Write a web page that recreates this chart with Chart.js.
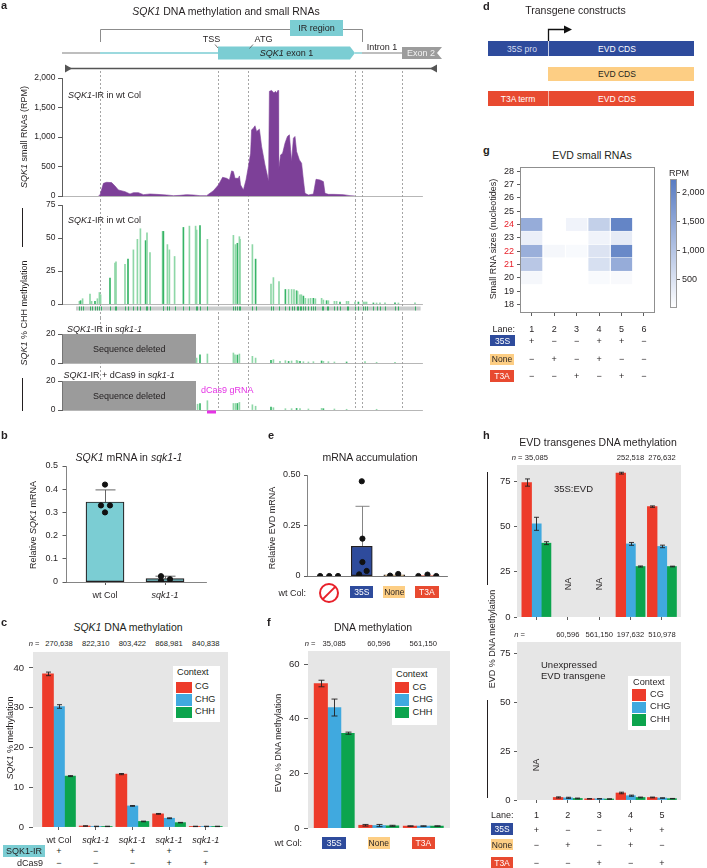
<!DOCTYPE html>
<html lang="en">
<head>
<meta charset="UTF-8">
<meta name="viewport" content="width=device-width, initial-scale=1.0">
<title>SQK1 and EVD methylation</title>
<script src="https://cdn.jsdelivr.net/npm/chart.js"></script>
<style>
  body { margin: 0; background: #fff; }
  #fig { position: relative; width: 707px; height: 868px; overflow: hidden;
         font-family: 'Liberation Sans', Arial, sans-serif; color: #231f20; }
  #fig canvas { position: absolute; }
  .t { position: absolute; white-space: nowrap; line-height: 1; font-size: 9px; }
  .lbl { font-weight: bold; font-size: 11px; }
  .ttl { font-size: 10.5px; }
  .n { font-size: 7.6px; }
  .box { position: absolute; }
</style>
</head>
<body>
<div id="fig"></div>
<script>
// ---------- data ----------
// a: SQK1 locus, positions in bp from the left end of the plotted window
const locusGuides = [190, 780, 930, 1465, 1500, 1700];
const srnaPos = [182, 190, 207, 223, 248, 265, 282, 315, 340, 357, 382, 407, 440, 473, 523, 557, 590, 623, 657, 690,
  723, 757, 782, 803, 823, 837, 848, 857, 865, 882, 887, 893, 907, 920, 932, 943, 948, 957, 965, 973,
  987, 998, 1015, 1028, 1033, 1037, 1048, 1060, 1067, 1073, 1080, 1083, 1093, 1103, 1115, 1127, 1137, 1143, 1148, 1157,
  1165, 1173, 1187, 1198, 1207, 1215, 1232, 1257, 1270, 1290, 1307, 1315, 1332, 1357, 1407, 1440, 1465];
const srnaRpm = [0, 17, 215, 232, 227, 170, 102, 74, 34, 57, 57, 23, 34, 28, 17, 6, 11, 23, 17, 6,
  6, 90, 187, 317, 300, 272, 425, 414, 300, 300, 340, 187, 102, 272, 499, 725, 1122, 1150, 1190, 1094,
  1133, 839, 527, 329, 244, 1774, 1790, 1745, 1774, 1745, 1790, 442, 697, 725, 895, 1009, 1037, 782, 584, 980,
  1009, 754, 612, 555, 272, 45, 17, 34, 283, 272, 244, 45, 28, 28, 23, 6, 0];

const chhWtPos = [87, 93, 103, 140, 148, 165, 177, 187, 193, 240, 265, 270, 315, 330, 357, 377, 392, 418, 425, 440,
  503, 507, 527, 537, 563, 607, 637, 668, 673, 690, 727, 857, 867, 877, 887, 890, 952, 968, 1045, 1057,
  1085, 1117, 1133, 1148, 1160, 1173, 1178, 1190, 1197, 1207, 1217, 1232, 1243, 1257, 1267, 1298, 1307, 1323, 1332, 1362,
  1373, 1390, 1423, 1432, 1465, 1482, 1507, 1515, 1523, 1557, 1573, 1590, 1615, 1665, 1682, 1765];
const chhWt = [2, 2.5, 4, 7.6, 2, 2, 4, 8.7, 7, 19.6, 31, 32, 30, 34, 41, 49, 57, 48, 54, 39,
  55, 55, 45, 41, 36, 58, 59, 59, 56, 59.5, 49, 52, 45, 46, 51, 49, 45, 34, 15, 20,
  17, 11, 11, 11, 11, 10, 9.5, 7, 7, 6, 4.3, 4, 4.3, 4.3, 4, 4.3, 3, 2.5, 2.5, 2,
  2, 1.5, 2, 2, 1.5, 1.5, 1.5, 1.5, 1.5, 0.8, 0.8, 0.8, 0.8, 0.8, 0.8, 0.8];
const chhSqkPos = [673, 690, 727, 857, 865, 877, 887, 952, 968, 1045, 1057, 1090, 1117, 1133, 1148, 1173, 1178, 1190,
  1207, 1232, 1257, 1298, 1307, 1332, 1362, 1423, 1515, 1573, 1665];
const chhSqk = [3.4, 5.7, 6.2, 6.9, 5.7, 5.5, 6.2, 4.6, 3.4, 1.8, 2.3, 1.1, 1.6, 1.1, 1.4, 1.8, 1.4, 1.1,
  0.9, 0.7, 0.9, 1.4, 1.1, 0.9, 0.7, 0.7, 0.9, 0.5, 0.5];
const chhCasPos = [678, 690, 727, 857, 867, 877, 887, 952, 968, 1045, 1057, 1117, 1148, 1173, 1190, 1232, 1298, 1307, 1362, 1423, 1573];
const chhCas = [4, 4.5, 6.4, 4.5, 4.5, 4.5, 5.2, 3.6, 2.6, 2.0, 1.6, 0.9, 0.9, 1.1, 0.9, 0.7, 1.1, 0.9, 0.7, 0.5, 0.5];

// locus features (bp)
const irSpan = [190, 1500], irBox = [1140, 1405];
const exon1 = [780, 1465], exon2 = [1700, 1890];
const tssPos = 780, atgPos = 930, intronMid = 1600;
const deletedSpan = [3, 670], grnaSpan = [725, 770], cytBand = [70, 1793];

// b
const bGroups = ['wt Col', 'sqk1-1'];
const bMean = [0.345, 0.015];
const bSd = [0.052, 0.010];
const bReps = [[0.42, 0.33, 0.33, 0.30], [0.025, 0.005, 0.012]];

// c
const cGroups = ['wt Col', 'sqk1-1', 'sqk1-1', 'sqk1-1', 'sqk1-1'];
const cN = ['270,638', '822,310', '803,422', '868,981', '840,838'];
const cCG = [38.5, 0.25, 13.3, 3.3, 0.15];
const cCHG = [30.3, 0.15, 5.3, 2.2, 0.15];
const cCHH = [12.8, 0.15, 1.4, 1.1, 0.15];
const cCGerr = [0.45, 0.05, 0.15, 0.1, 0.05];
const cCHGerr = [0.45, 0.05, 0.1, 0.1, 0.05];
const cCHHerr = [0.12, 0.05, 0.08, 0.06, 0.05];
const cIR = ['+', '−', '+', '+', '−'];
const cCas9 = ['−', '−', '−', '+', '+'];

// e
const eMean = [null, 0.147, 0.006, 0.002];
const eSd = [null, 0.198, null, null];
const eReps = [[0, 0, 0], [0.469, 0.185, 0.069, 0.025, 0.008], [0.002, 0.01], [0, 0.007, 0]];

// f
const fN = ['35,085', '60,596', '561,150'];
const fCG = [52.9, 1.0, 0.7];
const fCHG = [44.1, 0.9, 0.7];
const fCHH = [34.7, 0.8, 0.7];
const fCGerr = [1.2, 0.3, 0.1];
const fCHGerr = [3.1, 0.4, 0.1];
const fCHHerr = [0.4, 0.2, 0.1];

// g
const gLanes = [1, 2, 3, 4, 5, 6];
const gRedSizes = [21, 22, 24];
const rpm20 = [130, 0, 0, 90, 100, 0];
const rpm21 = [940, 0, 0, 530, 1400, 0];
const rpm22 = [1350, 130, 90, 470, 2000, 0];
const rpm23 = [270, 0, 0, 200, 330, 0];
const rpm24 = [1400, 0, 200, 800, 2070, 0];
const cbMax = 2232;
const cbTicks = [500, 1000, 1500, 2000];
const g35S = ['+', '−', '−', '+', '+', '−'];
const gNone = ['−', '+', '−', '+', '−', '−'];
const gT3A = ['−', '−', '+', '−', '+', '−'];

// h
const hLanes = [1, 2, 3, 4, 5];
const hTopN = ['35,085', '', '', '252,518', '276,632'];
const hTopCG = [74.3, null, null, 79.5, 61.0];
const hTopCHG = [51.5, null, null, 40.4, 39.0];
const hTopCHH = [40.8, null, null, 27.9, 27.9];
const hTopCGerr = [2.0, null, null, 0.5, 0.4];
const hTopCHGerr = [3.6, null, null, 0.8, 0.7];
const hTopCHHerr = [0.8, null, null, 0.3, 0.2];
const hBotN = ['', '60,596', '561,150', '197,632', '510,978'];
const hBotCG = [null, 1.3, 0.6, 3.6, 1.3];
const hBotCHG = [null, 1.1, 0.6, 2.2, 1.0];
const hBotCHH = [null, 0.8, 0.5, 1.3, 0.7];
const hBotCGerr = [null, 0.3, 0.1, 0.4, 0.2];
const hBotCHGerr = [null, 0.3, 0.1, 0.3, 0.1];
const hBotCHHerr = [null, 0.2, 0.1, 0.2, 0.1];
const h35S = ['+', '−', '−', '+', '+'];
const hNone = ['−', '+', '−', '+', '−'];
const hT3A = ['−', '−', '+', '−', '+'];

// ---------- style ----------
const FONT = "'Liberation Sans', Arial, sans-serif";
const TEAL = '#7BCDD3', PURPLE = '#7D4098';
const CG_COL = '#ED3B2A', CHG_COL = '#40A9DF', CHH_COL = '#0CA44D';
const S35_COL = '#2E4B9C', NONE_COL = '#FDCE84', T3A_COL = '#E84A30';
const HEAT_LO = [255, 255, 255], HEAT_HI = [88, 123, 194];

Chart.defaults.font.family = FONT;
Chart.defaults.font.size = 9;
Chart.defaults.color = '#231f20';
Chart.defaults.animation = false;
Chart.defaults.responsive = false;
Chart.defaults.events = [];
Chart.defaults.plugins.legend.display = false;
Chart.defaults.plugins.tooltip.enabled = false;

const fig = document.getElementById('fig');

function heat(v) {
  const t = Math.max(0, Math.min(1, v / cbMax));
  return 'rgb(' + HEAT_LO.map((lo, i) => Math.round(lo + (HEAT_HI[i] - lo) * t)) + ')';
}
const fmtK = v => v.toLocaleString('en-US');

function ax(o) {
  const tl = o.tickLen ?? 3;
  return {
    type: 'linear', min: o.min, max: o.max, offset: false,
    position: o.position, afterBuildTicks: o.afterBuildTicks,
    grid: { display: tl > 0, drawOnChartArea: false, offset: false, tickLength: tl, color: '#333', lineWidth: 0.8 },
    border: { display: o.border !== false, color: o.borderColor || '#333', width: 0.8 },
    ticks: { display: o.labels !== false, stepSize: o.step, includeBounds: false, autoSkip: false, maxRotation: 0,
             padding: o.pad ?? 2.5, callback: o.cb, color: o.colors || '#231f20', font: o.font || { size: 9 } }
  };
}

// place a chart so that its plot area lands on `area` (page px)
function mount(area, m, cfg) {
  const [x0, y0, x1, y1] = area;
  const W = x1 - x0 + m.l + m.r, H = y1 - y0 + m.t + m.b;
  const cv = document.createElement('canvas');
  cv.width = W; cv.height = H;
  Object.assign(cv.style, { left: (x0 - m.l) + 'px', top: (y0 - m.t) + 'px', width: W + 'px', height: H + 'px' });
  fig.appendChild(cv);
  const o = cfg.options;
  const sx = o.scales.x, sy = o.scales.y;
  const pad = { left: 0, right: m.r, top: m.t, bottom: 0 };
  if (sy.position === 'right') {
    pad.left = m.l; pad.right = 0;
    sy.afterFit = s => { s.width = m.r; s.paddingTop = 0; s.paddingBottom = 0; };
  } else {
    sy.afterFit = s => { s.width = m.l; s.paddingTop = 0; s.paddingBottom = 0; };
  }
  if (sx.display === false) pad.bottom = m.b;
  else sx.afterFit = s => { s.height = m.b; s.paddingLeft = 0; s.paddingRight = 0; };
  o.layout = { padding: pad, autoPadding: false };
  o.devicePixelRatio = 1;
  return new Chart(cv, cfg);
}
const px = (ch, v) => parseFloat(ch.canvas.style.left) + ch.scales.x.getPixelForValue(v);

// ---------- plugins ----------
const guidePlugin = {
  id: 'guides',
  beforeDatasetsDraw(chart, args, o) {
    if (!o.pos) return;
    const c = chart.ctx, xs = chart.scales.x;
    c.save();
    c.strokeStyle = '#9b9b9b'; c.lineWidth = 0.9; c.setLineDash([2, 2]);
    o.pos.forEach(p => {
      const x = Math.round(xs.getPixelForValue(p)) + 0.5;
      c.beginPath(); c.moveTo(x, o.from || 0); c.lineTo(x, o.to ?? chart.height); c.stroke();
    });
    c.restore();
  }
};

const trackPlugin = {
  id: 'track',
  beforeDatasetsDraw(chart, args, o) {
    if (!o.deleted) return;
    const X = v => chart.scales.x.getPixelForValue(v), Y = v => chart.scales.y.getPixelForValue(v);
    const c = chart.ctx;
    const x0 = X(o.deleted[0]), x1 = X(o.deleted[1]), y0 = Y(chart.scales.y.max), y1 = Y(0);
    c.save();
    c.fillStyle = '#9b9b9b'; c.fillRect(x0, y0, x1 - x0, y1 - y0);
    c.fillStyle = '#231f20'; c.font = '9px ' + FONT; c.textAlign = 'center'; c.textBaseline = 'middle';
    c.fillText('Sequence deleted', (x0 + x1) / 2, (y0 + y1) / 2 + 1);
    c.restore();
  },
  afterDatasetsDraw(chart, args, o) {
    const X = v => chart.scales.x.getPixelForValue(v);
    const c = chart.ctx, b = chart.chartArea.bottom;
    c.save();
    if (o.band) {
      c.fillStyle = '#c9cccc';
      c.fillRect(X(cytBand[0]), b + 2.5, X(cytBand[1]) - X(cytBand[0]), 4);
      c.fillStyle = '#3aae66';
      o.band.forEach(p => c.fillRect(Math.round(X(p)), b + 2.5, 1, 4));
    }
    if (o.grna) {
      c.fillStyle = '#E534E5';
      c.fillRect(X(o.grna[0]), b + 0.5, X(o.grna[1]) - X(o.grna[0]), 3);
    }
    c.restore();
  }
};

const locusPlugin = {
  id: 'locus',
  afterDraw(chart) {
    const X = v => chart.scales.x.getPixelForValue(v);
    const c = chart.ctx;
    const ln = (a, b, d, e) => { c.beginPath(); c.moveTo(a, b); c.lineTo(d, e); c.stroke(); };
    c.save();
    // IR bracket and label
    c.strokeStyle = '#8c8c8c'; c.lineWidth = 1;
    const i0 = Math.round(X(irSpan[0])) + 0.5, i1 = Math.round(X(irSpan[1])) + 0.5;
    c.beginPath(); c.moveTo(i0, 42); c.lineTo(i0, 29.5); c.lineTo(i1, 29.5); c.lineTo(i1, 42); c.stroke();
    c.fillStyle = TEAL;
    c.fillRect(X(irBox[0]), 20, X(irBox[1]) - X(irBox[0]), 16);
    c.fillStyle = '#231f20'; c.font = '9px ' + FONT; c.textAlign = 'center'; c.textBaseline = 'middle';
    c.fillText('IR region', (X(irBox[0]) + X(irBox[1])) / 2, 28.5);
    // gene model
    c.lineWidth = 1.4;
    c.strokeStyle = '#a9a9a9'; ln(X(0), 53, X(irSpan[0]), 53);
    c.strokeStyle = TEAL; ln(X(irSpan[0]), 53, X(exon1[0]), 53); ln(X(exon1[1]), 53, X(irSpan[1]), 53);
    c.strokeStyle = '#a9a9a9'; ln(X(irSpan[1]), 53, X(exon2[0]), 53);
    const e0 = X(exon1[0]), e1 = X(exon1[1]);
    c.fillStyle = TEAL;
    c.beginPath(); c.moveTo(e0, 46.5); c.lineTo(e1 - 5, 46.5); c.lineTo(e1, 53); c.lineTo(e1 - 5, 59.5); c.lineTo(e0, 59.5); c.closePath(); c.fill();
    c.textAlign = 'left';
    c.font = 'italic 9px ' + FONT; const w1 = c.measureText('SQK1').width;
    c.font = '9px ' + FONT; const w2 = c.measureText(' exon 1').width;
    const sx = (e0 + e1) / 2 - (w1 + w2) / 2;
    c.fillStyle = '#231f20';
    c.font = 'italic 9px ' + FONT; c.fillText('SQK1', sx, 53.5);
    c.font = '9px ' + FONT; c.fillText(' exon 1', sx + w1, 53.5);
    const x2a = X(exon2[0]), x2b = X(exon2[1]);
    c.fillStyle = '#9c9c9c';
    c.beginPath(); c.moveTo(x2a, 47); c.lineTo(x2b + 2, 47); c.lineTo(x2b - 3, 53); c.lineTo(x2b + 2, 59); c.lineTo(x2a, 59); c.closePath(); c.fill();
    c.textAlign = 'center';
    c.fillStyle = '#f2f2f2'; c.fillText('Exon 2', (x2a + x2b) / 2, 53.5);
    c.fillStyle = '#231f20'; c.fillText('Intron 1', X(intronMid), 48);
    c.fillText('TSS', X(tssPos) - 6.5, 39.5);
    c.fillText('ATG', X(atgPos) + 15.5, 39.5);
    c.strokeStyle = '#555'; c.lineWidth = 0.8;
    ln(X(tssPos) - 3, 44.5, X(tssPos), 48);
    ln(X(atgPos) + 5, 44.5, X(atgPos) + 1.5, 48.5);
    // double-headed locus line
    c.strokeStyle = '#555'; c.lineWidth = 1.6;
    ln(X(15), 68.5, X(1875), 68.5);
    c.fillStyle = '#555';
    c.beginPath(); c.moveTo(X(15), 64.5); c.lineTo(X(15), 72.5); c.lineTo(X(15) + 7, 68.5); c.closePath(); c.fill();
    c.beginPath(); c.moveTo(X(1875), 64.5); c.lineTo(X(1875), 72.5); c.lineTo(X(1875) - 7, 68.5); c.closePath(); c.fill();
    c.restore();
  }
};

const errPlugin = {
  id: 'errbars',
  draw(chart, o) {
    const c = chart.ctx, ys = chart.scales.y;
    c.save();
    c.strokeStyle = o.color || '#231f20'; c.lineWidth = o.width || 0.9;
    o.sets.forEach((errs, di) => {
      if (!errs) return;
      const meta = chart.getDatasetMeta(di);
      meta.data.forEach((bar, j) => {
        const v = chart.data.datasets[di].data[j], e = errs[j];
        if (v == null || e == null) return;
        const top = ys.getPixelForValue(v + e), bot = ys.getPixelForValue(o.upper ? v : Math.max(0, v - e));
        const hw = (o.cap || 5) / 2, x = Math.round(bar.x) + 0.5;
        c.beginPath();
        c.moveTo(x, top); c.lineTo(x, bot);
        c.moveTo(x - hw, top); c.lineTo(x + hw, top);
        if (!o.upper) { c.moveTo(x - hw, bot); c.lineTo(x + hw, bot); }
        c.stroke();
      });
    });
    c.restore();
  },
  beforeDatasetsDraw(chart, args, o) { if (o.sets && o.under) this.draw(chart, o); },
  afterDatasetsDraw(chart, args, o) { if (o.sets && !o.under) this.draw(chart, o); }
};

const bgPlugin = {
  id: 'panelBg',
  beforeDraw(chart) {
    const a = chart.chartArea, c = chart.ctx;
    c.save(); c.fillStyle = '#E6E6E6'; c.fillRect(a.left, a.top, a.right - a.left, a.bottom - a.top); c.restore();
  }
};

const framePlugin = {
  id: 'frame',
  afterDraw(chart, args, o) {
    const a = chart.chartArea, c = chart.ctx;
    c.save(); c.strokeStyle = o.color || '#999'; c.lineWidth = 1;
    c.strokeRect(Math.round(a.left) + 0.5, Math.round(a.top) + 0.5, Math.round(a.right - a.left) - 1, Math.round(a.bottom - a.top) - 1);
    c.restore();
  }
};

// ---------- panel a ----------
const axA = { font: { size: 8.5 }, tickLen: 4, pad: 2.5 };
const locusX = () => ax({ min: 0, max: 1800, labels: false, tickLen: 0, borderColor: '#a5a5a5' });
const greenShade = ctx => (ctx.dataIndex % 4 === 1 ? '#36B466' : '#8ED7A7');

const chA1 = mount([62, 78, 422, 196], { l: 62, t: 78, r: 25, b: 4 }, {
  type: 'line',
  data: { datasets: [{ data: srnaPos.map((p, i) => ({ x: p, y: srnaRpm[i] })), fill: 'origin',
    backgroundColor: PURPLE, borderColor: PURPLE, borderWidth: 0.6, pointRadius: 0, tension: 0 }] },
  options: {
    scales: { x: locusX(), y: ax({ ...axA, min: 0, max: 2000, step: 500, cb: fmtK }) },
    plugins: { guides: { pos: locusGuides, from: 71 } }
  },
  plugins: [guidePlugin, locusPlugin]
});

const chA2 = mount([62, 205, 422, 304], { l: 62, t: 5, r: 25, b: 14 }, {
  type: 'bar',
  data: { datasets: [{ data: chhWtPos.map((p, i) => ({ x: p, y: chhWt[i] })), backgroundColor: greenShade, barThickness: 1 }] },
  options: {
    scales: { x: locusX(), y: ax({ ...axA, min: 0, max: 75, step: 25 }) },
    plugins: { guides: { pos: locusGuides }, track: { band: chhWtPos } }
  },
  plugins: [guidePlugin, trackPlugin]
});

const chA3 = mount([62, 334, 422, 363], { l: 62, t: 16, r: 25, b: 7 }, {
  type: 'bar',
  data: { datasets: [{ data: chhSqkPos.map((p, i) => ({ x: p, y: chhSqk[i] })), backgroundColor: greenShade, barThickness: 1 }] },
  options: {
    scales: { x: locusX(), y: ax({ ...axA, min: 0, max: 20, step: 20 }) },
    plugins: { guides: { pos: locusGuides }, track: { deleted: deletedSpan } }
  },
  plugins: [guidePlugin, trackPlugin]
});

const chA4 = mount([62, 381, 422, 410], { l: 62, t: 11, r: 25, b: 6 }, {
  type: 'bar',
  data: { datasets: [{ data: chhCasPos.map((p, i) => ({ x: p, y: chhCas[i] })), backgroundColor: greenShade, barThickness: 1 }] },
  options: {
    scales: { x: locusX(), y: ax({ ...axA, min: 0, max: 20, step: 20 }) },
    plugins: { guides: { pos: locusGuides, to: 40 }, track: { deleted: deletedSpan, grna: grnaSpan } }
  },
  plugins: [guidePlugin, trackPlugin]
});

// ---------- panel b ----------
const bJit = [[0, -0.067, 0.083, 0], [-0.067, -0.067, 0.083]];
const chB = mount([66, 466, 206, 582], { l: 40, t: 6, r: 6, b: 20 }, {
  type: 'bar',
  data: {
    labels: [0, 1],
    datasets: [
      { type: 'scatter', data: bReps.flatMap((r, g) => r.map((v, k) => ({ x: g + bJit[g][k], y: v }))),
        backgroundColor: '#111', borderColor: '#111', pointRadius: 2.6, order: 0 },
      { data: bMean, backgroundColor: TEAL, borderColor: '#231f20', borderWidth: 1.2, borderSkipped: false, barThickness: 38, order: 1 }
    ]
  },
  options: {
    scales: {
      x: ax({ min: -0.65, max: 1.683, step: 1, pad: 5.5, cb: v => bGroups[v], borderColor: '#666',
              font: ctx => ({ size: 9, style: ctx.tick && ctx.tick.value === 1 ? 'italic' : 'normal' }) }),
      y: ax({ min: 0, max: 0.5, step: 0.1, tickLen: 3.5, pad: 4.5, borderColor: '#666', cb: v => (v === 0 ? '0' : v.toFixed(1)) })
    },
    plugins: { errbars: { sets: [null, bSd], upper: true, under: true, cap: 20, color: '#555' } }
  },
  plugins: [errPlugin]
});

// ---------- panel c ----------
const chC = mount([33, 652, 228, 827], { l: 33, t: 2, r: 2, b: 18 }, {
  type: 'bar',
  data: {
    labels: [0, 1, 2, 3, 4],
    datasets: [
      { data: cCG, backgroundColor: CG_COL, barThickness: 11 },
      { data: cCHG, backgroundColor: CHG_COL, barThickness: 11 },
      { data: cCHH, backgroundColor: CHH_COL, barThickness: 11 }
    ]
  },
  options: {
    scales: {
      x: ax({ min: -0.708, max: 4.606, step: 1, pad: 5, border: false, cb: v => cGroups[v],
              font: ctx => ({ size: 9, style: ctx.tick && ctx.tick.value > 0 ? 'italic' : 'normal' }) }),
      y: ax({ min: 0, max: 44, step: 10, border: false, tickLen: 4, pad: 5, font: { size: 9.5 } })
    },
    plugins: { errbars: { sets: [cCGerr, cCHGerr, cCHHerr], cap: 5 } }
  },
  plugins: [bgPlugin, errPlugin]
});

// ---------- panel e ----------
const eJit = [[-0.28, 0, 0.27], [0, 0.02, 0.02, 0.15, -0.08], [-0.13, 0.12], [-0.26, 0.02, 0.29]];
const chE = mount([307, 475, 447, 576], { l: 40, t: 6, r: 4, b: 4 }, {
  type: 'bar',
  data: {
    labels: [0, 1, 2, 3],
    datasets: [
      { type: 'scatter', data: eReps.flatMap((r, g) => r.map((v, k) => ({ x: g + eJit[g][k], y: v }))),
        backgroundColor: '#111', borderColor: '#111', pointRadius: 2.6, order: 0 },
      { data: eMean, backgroundColor: ['#fff', S35_COL, NONE_COL, T3A_COL], borderColor: '#231f20',
        borderWidth: 1.2, borderSkipped: false, barThickness: 21, order: 1 }
    ]
  },
  options: {
    scales: {
      x: ax({ min: -0.684, max: 3.62, labels: false, tickLen: 0, borderColor: '#555' }),
      y: ax({ min: 0, max: 0.5, step: 0.25, pad: 3.5, borderColor: '#666', cb: v => (v === 0 ? '0' : v.toFixed(2)) })
    },
    plugins: { errbars: { sets: [null, eSd], upper: true, under: true, cap: 14, color: '#777' } }
  },
  plugins: [errPlugin]
});

// ---------- panel f ----------
const chF = mount([308, 651, 450, 828], { l: 30, t: 2, r: 2, b: 4 }, {
  type: 'bar',
  data: {
    labels: [0, 1, 2],
    datasets: [
      { data: fCG, backgroundColor: CG_COL, barThickness: 13.4 },
      { data: fCHG, backgroundColor: CHG_COL, barThickness: 13.4 },
      { data: fCHH, backgroundColor: CHH_COL, barThickness: 13.4 }
    ]
  },
  options: {
    scales: {
      x: ax({ min: -0.589, max: 2.6, labels: false, tickLen: 0, border: false }),
      y: ax({ min: 0, max: 64.8, step: 20, border: false, tickLen: 4, pad: 4.5, font: { size: 9.5 } })
    },
    plugins: { errbars: { sets: [fCGerr, fCHGerr, fCHHerr], cap: 6 } }
  },
  plugins: [bgPlugin, errPlugin]
});

// ---------- panel g ----------
const gRows = [[20, rpm20], [21, rpm21], [22, rpm22], [23, rpm23], [24, rpm24]];
const chG = mount([520, 167, 655, 313], { l: 26, t: 2, r: 2, b: 22 }, {
  type: 'bar',
  data: {
    labels: gLanes,
    datasets: gRows.map(([size, rpm]) => ({
      data: rpm.map(() => [size - 0.5, size + 0.5]), rpm,
      backgroundColor: ctx => heat(ctx.dataset.rpm[ctx.dataIndex]),
      borderColor: '#fff', borderWidth: 0.5, borderSkipped: false, barThickness: 21.7, grouped: false
    }))
  },
  options: {
    scales: {
      x: ax({ min: 0.48, max: 6.49, step: 1, pad: 8, border: false }),
      y: ax({ min: 17.35, max: 28.32, step: 1, border: false, pad: 3,
              colors: ctx => (ctx.tick && gRedSizes.includes(ctx.tick.value) ? '#E8202A' : '#231f20') })
    },
    plugins: { frame: { color: '#8f8f8f' } }
  },
  plugins: [framePlugin]
});

const chCB = mount([670, 179, 677, 308], { l: 2, t: 2, r: 30, b: 2 }, {
  type: 'bar',
  data: {
    labels: ['RPM'],
    datasets: [{
      data: [[0, cbMax]], barPercentage: 1, categoryPercentage: 1,
      backgroundColor: ctx => {
        const a = ctx.chart.chartArea;
        if (!a) return heat(cbMax);
        const g = ctx.chart.ctx.createLinearGradient(0, a.bottom, 0, a.top);
        g.addColorStop(0, heat(0)); g.addColorStop(1, heat(cbMax));
        return g;
      }
    }]
  },
  options: {
    scales: {
      x: { display: false },
      y: ax({ min: 0, max: cbMax, position: 'right', border: false, pad: 2, cb: fmtK,
              afterBuildTicks: s => { s.ticks = cbTicks.map(v => ({ value: v })); } })
    },
    plugins: { frame: { color: '#9a9a9a' } }
  },
  plugins: [framePlugin]
});

// ---------- panel h ----------
const hBars = (cg, chg, chh) => [
  { data: cg, backgroundColor: CG_COL, barThickness: 9.7 },
  { data: chg, backgroundColor: CHG_COL, barThickness: 9.7 },
  { data: chh, backgroundColor: CHH_COL, barThickness: 9.7 }
];
const chH1 = mount([517, 465, 681, 617], { l: 28, t: 2, r: 2, b: 5 }, {
  type: 'bar',
  data: { labels: hLanes, datasets: hBars(hTopCG, hTopCHG, hTopCHH) },
  options: {
    scales: {
      x: ax({ min: 0.382, max: 5.608, step: 1, labels: false, border: false }),
      y: ax({ min: 0, max: 84, step: 25, border: false, pad: 3.5, font: { size: 9.5 } })
    },
    plugins: { errbars: { sets: [hTopCGerr, hTopCHGerr, hTopCHHerr], cap: 5 } }
  },
  plugins: [bgPlugin, errPlugin]
});
const chH2 = mount([517, 642, 681, 800], { l: 28, t: 2, r: 2, b: 20 }, {
  type: 'bar',
  data: { labels: hLanes, datasets: hBars(hBotCG, hBotCHG, hBotCHH) },
  options: {
    scales: {
      x: ax({ min: 0.382, max: 5.608, step: 1, pad: 7.5, border: false }),
      y: ax({ min: 0, max: 81, step: 25, border: false, pad: 3.5, font: { size: 9.5 } })
    },
    plugins: { errbars: { sets: [hBotCGerr, hBotCHGerr, hBotCHHerr], cap: 5 } }
  },
  plugins: [bgPlugin, errPlugin]
});

// ---------- text and decorations ----------
function put(x, y, html, o = {}) {
  const d = document.createElement('div');
  d.className = 't' + (o.cls ? ' ' + o.cls : '');
  d.innerHTML = html;
  d.style.left = x + 'px'; d.style.top = y + 'px';
  if (o.size) d.style.fontSize = o.size + 'px';
  if (o.color) d.style.color = o.color;
  const tx = o.align === 'l' ? '0' : o.align === 'r' ? '-100%' : '-50%';
  d.style.transform = `translate(${tx},-50%)` + (o.rot ? ` rotate(${o.rot}deg)` : '');
  fig.appendChild(d);
  return d;
}
function rect(x, y, w, h, bg) {
  const d = document.createElement('div');
  d.className = 'box';
  Object.assign(d.style, { left: x + 'px', top: y + 'px', width: w + 'px', height: h + 'px', background: bg });
  fig.appendChild(d);
  return d;
}
function badge(cx, y, w, h, text, bg, fg) {
  rect(cx - w / 2, y, w, h, bg);
  put(cx, y + h / 2 + 0.3, text, { color: fg, size: 8.5 });
}
function legend(x, y, w, h, sqX, sqW, rowTop, step, textX) {
  rect(x, y, w, h, '#fff');
  put(sqX + 1, y + 7, 'Context', { align: 'l', size: 9.2 });
  [['CG', CG_COL], ['CHG', CHG_COL], ['CHH', CHH_COL]].forEach(([t, col], i) => {
    rect(sqX, rowTop + i * step, sqW, step - 1, col);
    put(textX, rowTop + i * step + (step - 1) / 2, t, { align: 'l', size: 9.2 });
  });
}
const signs = (ch, vals, y, lanes) => vals.forEach((s, i) => put(px(ch, lanes[i]), y, s, { size: 9 }));

// a
put(1, 5, 'a', { cls: 'lbl', align: 'l' });
put(226, 10.5, '<i>SQK1</i> DNA methylation and small RNAs', { cls: 'ttl' });
put(68, 95, '<i>SQK1</i>-IR in wt Col', { align: 'l' });
put(68, 219.5, '<i>SQK1</i>-IR in wt Col', { align: 'l' });
put(67, 328.5, '<i>SQK1</i>-IR in <i>sqk1-1</i>', { align: 'l' });
put(63.5, 375, '<i>SQK1</i>-IR + dCas9 in <i>sqk1-1</i>', { align: 'l' });
put(201, 390, 'dCas9 gRNA', { align: 'l', color: '#E534E5' });
put(24, 137, '<i>SQK1</i> small RNAs (RPM)', { rot: -90 });
put(24, 313, '<i>SQK1</i> % CHH methylation', { rot: -90 });
rect(21.5, 208, 1, 39, '#231f20');
rect(21.5, 378, 1, 33, '#231f20');

// b
put(1, 434.5, 'b', { cls: 'lbl', align: 'l' });
put(129, 456.5, '<i>SQK1</i> mRNA in <i>sqk1-1</i>', { cls: 'ttl' });
put(33, 525, 'Relative <i>SQK1</i> mRNA', { rot: -90 });

// c
put(1, 622, 'c', { cls: 'lbl', align: 'l' });
put(128, 627, '<i>SQK1</i> DNA methylation', { cls: 'ttl' });
put(39.5, 643.5, '<i>n</i> =', { cls: 'n', align: 'r' });
cN.forEach((n, i) => put(px(chC, i), 643.5, n, { cls: 'n' }));
put(10, 738, '<i>SQK1</i> % methylation', { rot: -90 });
legend(173, 666, 47, 56, 176, 15.5, 681.5, 12.5, 195);
rect(3, 845, 42, 11.5, TEAL);
put(24, 851, 'SQK1-IR', { size: 9 });
put(43, 862.5, 'dCas9', { align: 'r' });
signs(chC, cIR, 851, [0, 1, 2, 3, 4]);
signs(chC, cCas9, 862.5, [0, 1, 2, 3, 4]);

// d
put(483, 6, 'd', { cls: 'lbl', align: 'l' });
put(575.5, 9.5, 'Transgene constructs', { cls: 'ttl' });
rect(488, 41, 206, 15, S35_COL); rect(548, 41, 1, 15, '#c9d0e6');
put(522, 48.7, '35S pro', { color: '#d6dcf0', size: 8.5 });
put(617, 48.7, 'EVD CDS', { color: '#fff', size: 8.5 });
rect(548, 67, 146, 14, NONE_COL);
put(617, 74.2, 'EVD CDS', { color: '#231f20', size: 8.5 });
rect(488, 91, 206, 15, T3A_COL); rect(548, 91, 1, 15, '#f3b5a8');
put(518, 98.7, 'T3A term', { color: '#fff', size: 8.5 });
put(617, 98.7, 'EVD CDS', { color: '#fff', size: 8.5 });
fig.insertAdjacentHTML('beforeend',
  '<svg style="position:absolute;left:540px;top:20px" width="40" height="25">' +
  '<polyline points="8.5,21 8.5,9.5 25,9.5" fill="none" stroke="#111" stroke-width="1.3"/>' +
  '<polygon points="24,5.5 32,9.5 24,13.5" fill="#111"/></svg>');

// e
put(268, 434.5, 'e', { cls: 'lbl', align: 'l' });
put(370, 456.5, 'mRNA accumulation', { cls: 'ttl' });
put(272, 528, 'Relative EVD mRNA', { rot: -90 });
put(306, 592.5, 'wt Col:', { align: 'r' });
const eNo = px(chE, 0);
fig.insertAdjacentHTML('beforeend',
  `<svg style="position:absolute;left:${eNo - 11}px;top:581.5px" width="22" height="22">` +
  '<circle cx="11" cy="11" r="9" fill="none" stroke="#E8202A" stroke-width="2"/>' +
  '<line x1="17.4" y1="4.6" x2="4.6" y2="17.4" stroke="#E8202A" stroke-width="2"/></svg>');
badge(px(chE, 1), 586, 23, 12, '35S', S35_COL, '#fff');
badge(px(chE, 2), 586, 22, 12, 'None', NONE_COL, '#231f20');
badge(px(chE, 3), 586, 24, 12, 'T3A', T3A_COL, '#fff');

// f
put(267, 622, 'f', { cls: 'lbl', align: 'l' });
put(373, 627, 'DNA methylation', { cls: 'ttl' });
put(315.5, 643.5, '<i>n</i> =', { cls: 'n', align: 'r' });
fN.forEach((n, i) => put(px(chF, i), 643.5, n, { cls: 'n' }));
put(278, 743, 'EVD % DNA methylation', { rot: -90 });
legend(392, 668, 45, 57, 395, 13.5, 682, 12.4, 412.5);
put(302, 842.5, 'wt Col:', { align: 'r' });
badge(px(chF, 0), 836.5, 24.5, 12, '35S', S35_COL, '#fff');
badge(px(chF, 1), 836.5, 22.5, 12, 'None', NONE_COL, '#231f20');
badge(px(chF, 2), 836.5, 23, 12, 'T3A', T3A_COL, '#fff');

// g
put(483, 150, 'g', { cls: 'lbl', align: 'l' });
put(592, 155, 'EVD small RNAs', { cls: 'ttl' });
put(492.5, 239, 'Small RNA sizes (nucleotides)', { rot: -90 });
put(679, 172.5, 'RPM');
put(515, 328.5, 'Lane:', { align: 'r' });
badge(502.5, 335, 25, 11, '35S', S35_COL, '#fff');
badge(502, 353.5, 24, 11, 'None', NONE_COL, '#231f20');
badge(502, 370, 24, 11.5, 'T3A', T3A_COL, '#fff');
signs(chG, g35S, 340.5, gLanes);
signs(chG, gNone, 359, gLanes);
signs(chG, gT3A, 376, gLanes);

// h
put(483, 435, 'h', { cls: 'lbl', align: 'l' });
put(598, 441.5, 'EVD transgenes DNA methylation', { cls: 'ttl' });
put(522.5, 457.5, '<i>n</i> =', { cls: 'n', align: 'r' });
hTopN.forEach((n, i) => n && put(px(chH1, hLanes[i]), 457.5, n, { cls: 'n' }));
put(573.5, 488.5, '35S:EVD', { size: 9.5 });
put(px(chH1, 2), 584, 'NA', { rot: -90 });
put(px(chH1, 3), 584, 'NA', { rot: -90 });
put(525, 634.5, '<i>n</i> =', { cls: 'n', align: 'r' });
hBotN.forEach((n, i) => n && put(px(chH2, hLanes[i]), 634.5, n, { cls: 'n' }));
put(541, 664.5, 'Unexpressed', { align: 'l', size: 9.5 });
put(541, 675.5, 'EVD transgene', { align: 'l', size: 9.5 });
put(px(chH2, 1), 765, 'NA', { rot: -90 });
legend(628, 676, 41.5, 53.5, 632, 14, 689, 12.6, 650);
put(491.5, 639, 'EVD % DNA methylation', { rot: -90 });
rect(486.5, 472, 1, 113, '#231f20');
rect(486.5, 700, 1, 98, '#231f20');
put(513.5, 815, 'Lane:', { align: 'r' });
badge(502, 823, 22.5, 12, '35S', S35_COL, '#fff');
badge(502, 839, 22.5, 11, 'None', NONE_COL, '#231f20');
badge(502, 857, 22.5, 11, 'T3A', T3A_COL, '#fff');
signs(chH2, h35S, 830, hLanes);
signs(chH2, hNone, 845, hLanes);
signs(chH2, hT3A, 862.5, hLanes);
</script>
</body>
</html>
